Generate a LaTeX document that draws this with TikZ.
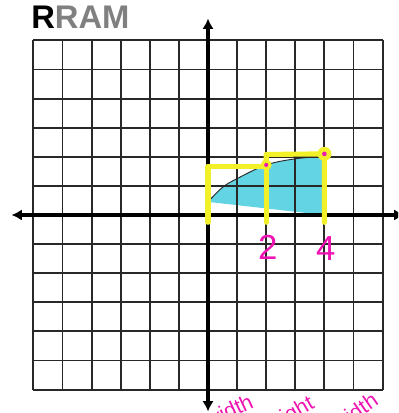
\documentclass[tikz,border=0pt]{standalone}
\usepackage{fontspec}
\setmainfont{Liberation Sans}
\usetikzlibrary{arrows.meta}

\definecolor{gridgray}{RGB}{40,40,40}
\definecolor{titlegray}{RGB}{128,128,128}
\definecolor{areacyan}{RGB}{98,212,228}
\definecolor{markyellow}{RGB}{242,240,40}
\definecolor{inkpink}{RGB}{238,20,178}

\tikzset{
  gridline/.style={gridgray, line width=1.8pt},
  axisline/.style={black, line width=3.2pt, -{Latex[length=10pt,width=11pt]}},
  yellowmark/.style={markyellow, line width=5pt, line cap=round, line join=round},
  inklabel/.style={inkpink, font=\fontsize{34}{34}\selectfont},
  inkword/.style={inkpink, font=\fontsize{21}{21}\selectfont, anchor=base east},
}

\begin{document}
\begin{tikzpicture}[x=1cm, y=1cm]
  \useasboundingbox (-7.148,-6.804) rectangle (6.529,7.388);
  \clip (-7.148,-6.804) rectangle (6.529,7.388);

  % shaded area under the curve
  \fill[areacyan] (0,0) -- (0,0.45)
    plot[smooth, tension=0.6] coordinates {(0,0.45) (0.5,0.95) (1,1.25) (2,1.72) (3,1.93) (4,2.02)}
    -- (4,0) -- cycle;

  % grid
  \foreach \i in {-6,...,6} {
    \draw[gridline] (\i,-6) -- (\i,6);
    \draw[gridline] (-6,\i) -- (6,\i);
  }

  % axes
  \coordinate (O) at (0,0);
  \coordinate (xl) at (-6.75,0);
  \coordinate (xr) at (6.75,0);
  \coordinate (yt) at (0,6.75);
  \coordinate (yb) at (0,-6.75);
  \draw[axisline] (O) -- (xr);
  \draw[axisline] (O) -- (xl);
  \draw[axisline] (O) -- (yt);
  \draw[axisline] (O) -- (yb);

  % the curve
  \draw[gridgray, line width=0.9pt] plot[smooth, tension=0.6]
    coordinates {(0,0.45) (0.5,0.95) (1,1.25) (2,1.72) (3,1.93) (4,2.02)};

  % right endpoint rectangles
  \coordinate (P) at (2,1.72);
  \coordinate (Q) at (4,2.1);
  \draw[yellowmark] (0,-0.25) -- (0,1.68) -- (2,1.68) -- (2,-0.25);
  \draw[yellowmark] (P) -- (2,2.08) -- (Q) -- (4,-0.25);
  \fill[markyellow] (P) circle (0.19);
  \fill[markyellow] (Q) circle (0.24);
  \fill[inkpink] (P) circle (0.07);
  \fill[inkpink] (Q) circle (0.08);

  % labels
  \node[inklabel] (two) at (2.05,-1.1) {2};
  \node[inklabel] (four) at (4.05,-1.15) {4};
  \node[inkword, rotate=25] (w1) at (1.72,-6.55) {width};
  \node[inkword, rotate=30] (h1) at (3.8,-6.55) {height};
  \node[inkword, rotate=35] (w2) at (6.0,-6.42) {width};

  % title
  \node[anchor=north west, inner sep=0pt, font=\bfseries\fontsize{32}{32}\selectfont]
    (title) at (-6.08,7.18) {R\textcolor{titlegray}{RAM}};
\end{tikzpicture}
\end{document}
